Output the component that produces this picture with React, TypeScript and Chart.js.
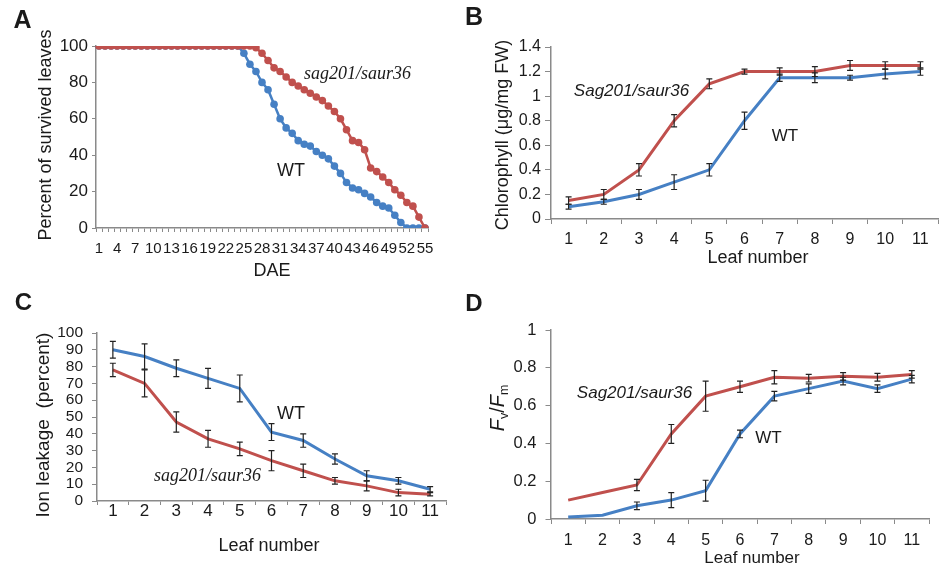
import React, { useEffect, useRef } from 'react';
import { Chart, registerables } from 'chart.js';

Chart.register(...registerables);

// ---------- data ----------
const daeLabels = ['1','2','3','4','5','6','7','8','9','10','11','12','13','14','15','16','17','18','19','20','21','22','23','24','25','26','27','28','29','30','31','32','33','34','35','36','37','38','39','40','41','42','43','44','45','46','47','48','49','50','51','52','53','54','55'];
const survivalWT = [100,100,100,100,100,100,100,100,100,100,100,100,100,100,100,100,100,100,100,100,100,100,100,100,
  96,90,86,80,76,68,60,55,52,48,46,45,42,40,38,34,30,25,22,21,19,17,14,12,11,7,3,0,0,0,0];
const survivalMutant = [100,100,100,100,100,100,100,100,100,100,100,100,100,100,100,100,100,100,100,100,100,100,100,100,100,100,
  99,96,92,88,86,83,80,78,76,74,72,70,67,64,60,54,48,47,43,33,31,28,25,21,18,14,12,6,0];

const leafNumbers = ['1','2','3','4','5','6','7','8','9','10','11'];

const chlWT = [0.10,0.14,0.20,0.30,0.40,0.80,1.15,1.15,1.15,1.18,1.20];
const chlWTErr = [0.02,0.02,0.04,0.06,0.05,0.07,0.03,0.04,0.02,0.04,0.03];
const chlMutant = [0.15,0.20,0.40,0.80,1.10,1.20,1.20,1.20,1.25,1.25,1.25];
const chlMutantErr = [0.03,0.04,0.05,0.05,0.04,0.02,0.03,0.04,0.04,0.03,0.03];

const ionWT = [90,86,79,73,67,41,36,25,15,12,7];
const ionWTErr = [5,7.5,5,6,8,5,4,3,3,2,1.5];
const ionMutant = [78,70,47,37,31,24,18,12,9,5,4];
const ionMutantErr = [4,8,6,5,4,6,4,2,3,2,1];

const fvfmWT = [0.01,0.02,0.07,0.10,0.15,0.45,0.65,0.69,0.73,0.69,0.74];
const fvfmWTErr = [0,0,0.02,0.04,0.055,0.02,0.025,0.025,0.02,0.02,0.02];
const fvfmMutant = [0.10,0.14,0.18,0.45,0.65,0.70,0.75,0.745,0.755,0.75,0.765];
const fvfmMutantErr = [0,0,0.03,0.05,0.08,0.03,0.035,0.02,0.02,0.02,0.02];

// ---------- styles ----------
const RED = '#C0504D';
const BLUE = '#4680C4';
const AXIS = '#8a8a8a';
const TXT = '#1a1a1a';
const SANS = '"Liberation Sans", Arial, sans-serif';
const SERIF = '"Liberation Serif", "Times New Roman", serif';

const errorBarPlugin = {
  id: 'errorBars',
  afterDatasetsDraw(chart: any) {
    const ctx = chart.ctx;
    const yScale = chart.scales.y;
    chart.data.datasets.forEach((ds: any, di: number) => {
      const errs: number[] | undefined = ds.errors;
      if (!errs) return;
      const meta = chart.getDatasetMeta(di);
      meta.data.forEach((pt: any, i: number) => {
        const e = errs[i];
        if (!e) return;
        const v = ds.data[i];
        const x = pt.x;
        const y1 = yScale.getPixelForValue(v - e);
        const y2 = yScale.getPixelForValue(v + e);
        ctx.save();
        ctx.strokeStyle = '#222';
        ctx.lineWidth = 1.2;
        ctx.beginPath();
        ctx.moveTo(x, y1); ctx.lineTo(x, y2);
        ctx.moveTo(x - 3, y1); ctx.lineTo(x + 3, y1);
        ctx.moveTo(x - 3, y2); ctx.lineTo(x + 3, y2);
        ctx.stroke();
        ctx.restore();
      });
    });
  },
};

interface PanelSpec {
  left: number; top: number; width: number; height: number;
  padding: { left: number; top: number; right: number; bottom: number };
  yWidth: number; xHeight: number;
  labels: string[];
  datasets: any[];
  yMin: number; yMax: number; yStep: number;
  yFont: number; yTl: number; yPad: number;
  xFont: number; xTl: number; xPad: number;
  xCallback?: (v: any, i: number) => string;
}

function buildConfig(p: PanelSpec): any {
  return {
    type: 'line',
    data: { labels: p.labels, datasets: p.datasets },
    plugins: [errorBarPlugin],
    options: {
      responsive: false,
      animation: false,
      events: [],
      layout: { padding: p.padding },
      plugins: { legend: { display: false }, tooltip: { enabled: false }, title: { display: false } },
      elements: { line: { tension: 0 } },
      scales: {
        x: {
          type: 'category',
          offset: true,
          afterFit: (s: any) => { s.height = p.xHeight; },
          grid: { display: true, drawOnChartArea: false, drawTicks: true, tickLength: p.xTl, color: AXIS, lineWidth: 1, offset: true },
          border: { display: true, color: AXIS, width: 1.5 },
          ticks: {
            autoSkip: false, maxRotation: 0, minRotation: 0,
            padding: p.xPad, color: TXT,
            font: { size: p.xFont, family: SANS, lineHeight: 1 },
            callback: p.xCallback || ((v: any, i: number) => p.labels[i]),
          },
        },
        y: {
          min: p.yMin, max: p.yMax,
          afterFit: (s: any) => { s.width = p.yWidth; },
          grid: { display: true, drawOnChartArea: false, drawTicks: true, tickLength: p.yTl, color: AXIS, lineWidth: 1 },
          border: { display: true, color: AXIS, width: 1.5 },
          ticks: {
            autoSkip: false,
            stepSize: p.yStep, padding: p.yPad, color: TXT,
            font: { size: p.yFont, family: SANS, lineHeight: 1 },
            callback: (v: any) => String(Number(Number(v).toFixed(2))),
          },
        },
      },
    },
  };
}

function Panel({ spec }: { spec: PanelSpec }) {
  const ref = useRef<HTMLCanvasElement | null>(null);
  useEffect(() => {
    if (!ref.current) return;
    const chart = new Chart(ref.current, buildConfig(spec));
    return () => chart.destroy();
  }, [spec]);
  return (
    <div style={{ position: 'absolute', left: spec.left, top: spec.top, width: spec.width, height: spec.height }}>
      <canvas ref={ref} width={spec.width} height={spec.height} style={{ display: 'block' }} />
    </div>
  );
}

const lineDs = (label: string, data: number[], color: string, errors?: number[], points = false) => ({
  label, data, errors,
  borderColor: color, backgroundColor: color,
  borderWidth: points ? 2.5 : 3,
  pointRadius: points ? 3.8 : 0,
  pointBorderWidth: 0,
  pointBackgroundColor: color,
  fill: false,
});

const panelA: PanelSpec = {
  left: 0, top: 0, width: 470, height: 285,
  padding: { left: 0, top: 46, right: 42, bottom: 0 },
  yWidth: 96, xHeight: 57,
  labels: daeLabels,
  datasets: [
    lineDs('sag201/saur36', survivalMutant, RED, undefined, true),
    lineDs('WT', survivalWT, BLUE, undefined, true),
  ],
  yMin: 0, yMax: 100, yStep: 20,
  yFont: 17, yTl: 4, yPad: 4,
  xFont: 15, xTl: 4, xPad: 9,
  xCallback: (v: any, i: number) => (i % 3 === 0 ? daeLabels[i] : ''),
};

const panelB: PanelSpec = {
  left: 470, top: 0, width: 470, height: 285,
  padding: { left: 0, top: 47, right: 2, bottom: 0 },
  yWidth: 81, xHeight: 66,
  labels: leafNumbers,
  datasets: [
    lineDs('Sag201/saur36', chlMutant, RED, chlMutantErr),
    lineDs('WT', chlWT, BLUE, chlWTErr),
  ],
  yMin: 0, yMax: 1.4, yStep: 0.2,
  yFont: 16, yTl: 6, yPad: 4,
  xFont: 16, xTl: 5, xPad: 8,
};

const panelC: PanelSpec = {
  left: 0, top: 285, width: 470, height: 283,
  padding: { left: 0, top: 48, right: 24, bottom: 0 },
  yWidth: 97, xHeight: 67,
  labels: leafNumbers,
  datasets: [
    lineDs('WT', ionWT, BLUE, ionWTErr),
    lineDs('sag201/saur36', ionMutant, RED, ionMutantErr),
  ],
  yMin: 0, yMax: 100, yStep: 10,
  yFont: 15.5, yTl: 5, yPad: 9,
  xFont: 17, xTl: 4, xPad: -2,
};

const panelD: PanelSpec = {
  left: 470, top: 285, width: 470, height: 283,
  padding: { left: 0, top: 45, right: 11, bottom: 0 },
  yWidth: 81, xHeight: 49,
  labels: leafNumbers,
  datasets: [
    lineDs('Sag201/saur36', fvfmMutant, RED, fvfmMutantErr),
    lineDs('WT', fvfmWT, BLUE, fvfmWTErr),
  ],
  yMin: 0, yMax: 1, yStep: 0.2,
  yFont: 16.5, yTl: 5.5, yPad: 9,
  xFont: 16, xTl: 5, xPad: 9,
};

function Txt({ x, y, size, children, italic, serif, bold, rotate }: any) {
  return (
    <div style={{
      position: 'absolute', left: x, top: y,
      transform: `translate(-50%, -50%)${rotate ? ' rotate(-90deg)' : ''}`,
      fontSize: size, lineHeight: 1, whiteSpace: 'pre',
      fontFamily: serif ? SERIF : SANS,
      fontStyle: italic ? 'italic' : 'normal',
      fontWeight: bold ? 'bold' : 'normal',
      color: TXT,
    }}>{children}</div>
  );
}

const subStyle = { fontSize: '0.62em', verticalAlign: '-0.35em', fontStyle: 'normal' };

export default function App() {
  return (
    <div style={{ position: 'absolute', left: 0, top: 0, width: 940, height: 568, background: '#fff', overflow: 'hidden' }}>
      <Panel spec={panelA} />
      <Panel spec={panelB} />
      <Panel spec={panelC} />
      <Panel spec={panelD} />

      {/* panel letters */}
      <Txt x={22.5} y={19} size={25} bold>A</Txt>
      <Txt x={474} y={16} size={25} bold>B</Txt>
      <Txt x={23.5} y={301.5} size={24} bold>C</Txt>
      <Txt x={474} y={302.5} size={24} bold>D</Txt>

      {/* axis titles */}
      <Txt x={45} y={135} size={18} rotate>Percent of survived leaves</Txt>
      <Txt x={272} y={270} size={18}>DAE</Txt>
      <Txt x={502} y={135} size={18} rotate>Chlorophyll (μg/mg FW)</Txt>
      <Txt x={758} y={257} size={18}>Leaf number</Txt>
      <Txt x={41.5} y={425} size={19} rotate>{'Ion leakage  (percent)'}</Txt>
      <Txt x={269} y={545} size={18}>Leaf number</Txt>
      <Txt x={499} y={408} size={20} rotate><i>F</i><span style={subStyle}>v</span>/<i>F</i><span style={subStyle}>m</span></Txt>
      <Txt x={752} y={557} size={17}>Leaf number</Txt>

      {/* series annotations */}
      <Txt x={357.5} y={73} size={18} italic serif>sag201/saur36</Txt>
      <Txt x={291} y={170} size={18}>WT</Txt>
      <Txt x={631.5} y={90} size={17} italic>Sag201/saur36</Txt>
      <Txt x={785} y={135} size={17}>WT</Txt>
      <Txt x={207.5} y={475} size={18} italic serif>sag201/saur36</Txt>
      <Txt x={291} y={413} size={18}>WT</Txt>
      <Txt x={634.5} y={392} size={17} italic>Sag201/saur36</Txt>
      <Txt x={768.5} y={437} size={17}>WT</Txt>
    </div>
  );
}
